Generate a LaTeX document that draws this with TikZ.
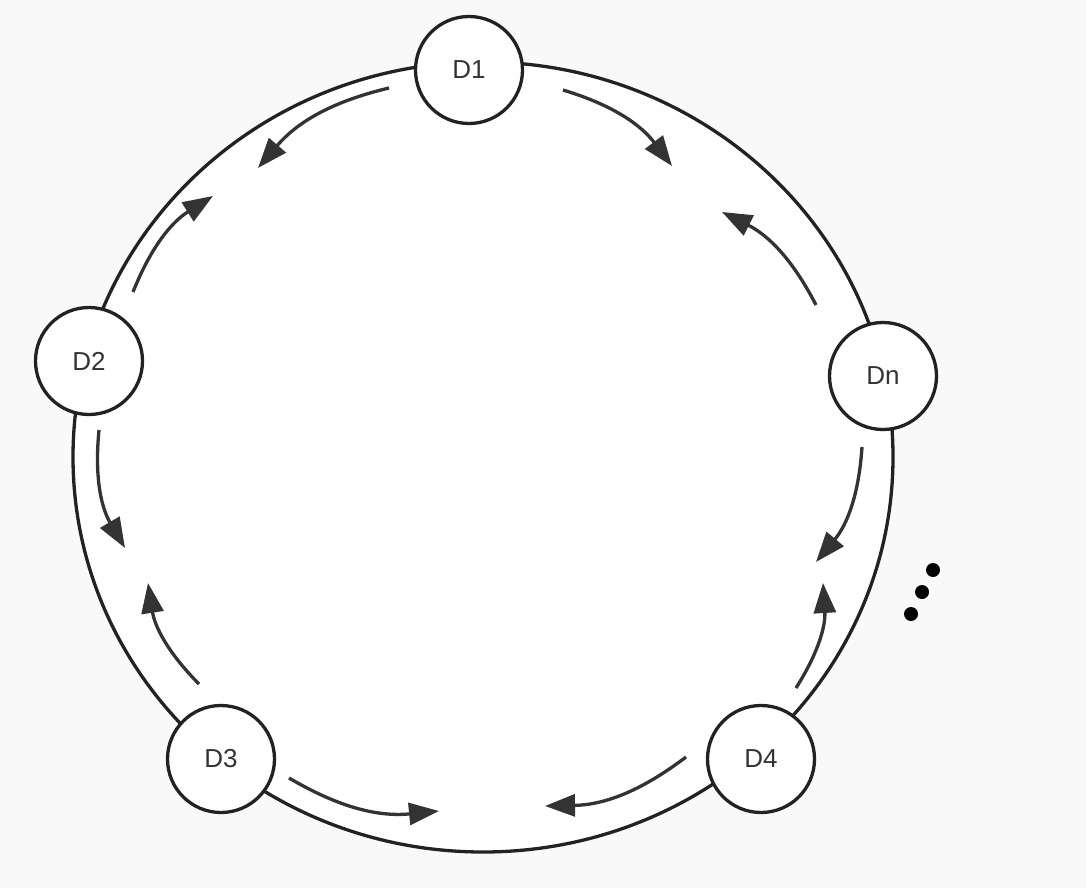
\documentclass[tikz,border=0pt]{standalone}
\usepackage{fontspec}
\setmainfont{Liberation Sans}
\usetikzlibrary{arrows.meta}
\definecolor{ringgray}{HTML}{222222}
\definecolor{arrowgray}{HTML}{333333}
\definecolor{paper}{HTML}{F9F9F9}

\begin{document}
\begin{tikzpicture}[x=1pt,y=1pt,
    disk/.style={circle,draw=ringgray,line width=3.3pt,fill=white,minimum size=107pt,
      inner sep=0pt,font=\fontsize{26}{30}\selectfont,text=arrowgray},
    flow/.style={draw=arrowgray,line width=3.3pt,-{Triangle[length=30pt,width=22pt]}}]
  \fill[paper] (0,0) rectangle (1086,-888);
  \useasboundingbox (0,0) rectangle (1086,-888);

  % ring
  \draw[ringgray,line width=3.3pt,fill=white] (483,-457) ellipse [x radius=410,y radius=395];

  \node[disk] (d1) at (469,-70) {D1};
  \node[disk] (d2) at (89,-361) {D2};
  \node[disk] (dn) at (883,-376) {Dn};
  \node[disk] (d3) at (221,-759) {D3};
  \node[disk] (d4) at (761,-759) {D4};

  % arrow ends
  \coordinate (a1) at (389,-88);  \coordinate (b1) at (258,-168);
  \coordinate (a2) at (133,-292); \coordinate (b2) at (213,-196);
  \coordinate (a3) at (563,-90);  \coordinate (b3) at (672,-166);
  \coordinate (a4) at (816,-305); \coordinate (b4) at (722,-212);
  \coordinate (a5) at (99,-430);  \coordinate (b5) at (125,-548);
  \coordinate (a6) at (199,-684); \coordinate (b6) at (148,-583);
  \coordinate (a7) at (289,-778); \coordinate (b7) at (439,-811);
  \coordinate (a8) at (686,-757); \coordinate (b8) at (545,-806);
  \coordinate (a9) at (796,-688); \coordinate (b9) at (823,-583);
  \coordinate (a10) at (862,-447); \coordinate (b10) at (816,-562);

  \foreach \i/\b in {1/right,2/left,3/left,4/right,5/right,6/left,7/right,8/left,9/right,10/left}
    \draw[flow] (a\i) to[bend \b=18] (b\i);

  % more nodes
  \foreach \p in {(933,-570),(922,-592),(911,-614)}
    \fill[black] \p circle (7);
\end{tikzpicture}
\end{document}
